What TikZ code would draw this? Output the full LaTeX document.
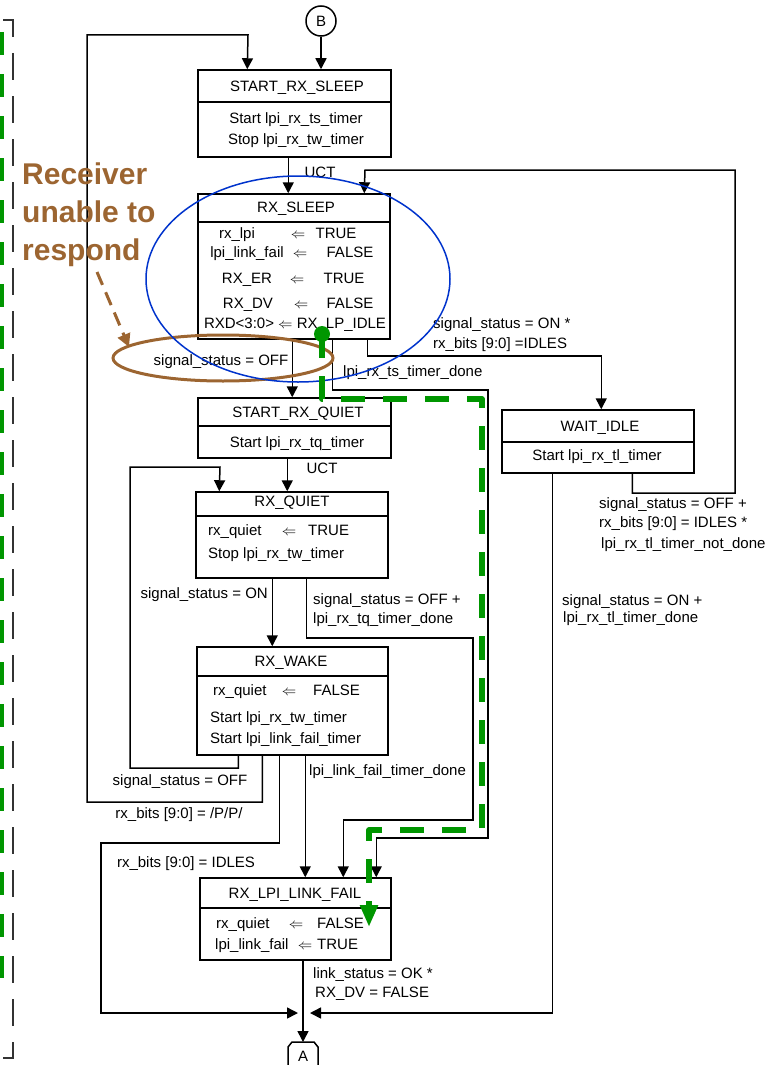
\documentclass[tikz,border=0pt]{standalone}
\usepackage{fontspec}
\setmainfont{Liberation Sans}
\usetikzlibrary{arrows.meta}
\definecolor{brn}{RGB}{156,101,49}
\definecolor{grn}{RGB}{0,150,0}
\definecolor{blu}{RGB}{0,51,204}
\definecolor{dgray}{RGB}{51,51,51}
\begin{document}
\begin{tikzpicture}[x=1pt,y=-1pt,
  every node/.style={font=\fontsize{15}{17}\selectfont, inner sep=0pt},
  state/.style={draw, line width=1.5pt, inner sep=0pt},
  divider/.style={line width=1.5pt},
  conn/.style={line width=1.5pt, -{Triangle[length=11pt,width=11pt]}},
  lw/.style={anchor=base west},
  lc/.style={anchor=base},
  lr/.style={anchor=base east},
  note/.style={anchor=base west, text=brn, font=\fontsize{30}{36}\selectfont\bfseries}]
\useasboundingbox (0,0) rectangle (780,1065);

% ---------- frame lines on the left ----------
\draw[dgray, line width=1.8pt, dash pattern=on 27pt off 16pt] (3,20) -- (13,20) -- (13,1058) -- (3,1058);
\draw[grn, line width=5pt, dash pattern=on 23pt off 19pt] (1.5,32) -- (1.5,978);

% ---------- states ----------
\node[state, circle, minimum size=30pt] (B) at (321,21) {B};
\node[state, minimum width=193pt, minimum height=87pt] (srs) at (294.5,113.5) {};
\node[state, minimum width=192pt, minimum height=145pt] (rxs) at (294,266.5) {};
\node[state, minimum width=193pt, minimum height=60pt] (srq) at (294.5,428) {};
\node[state, minimum width=192pt, minimum height=86pt] (rxq) at (292,535) {};
\node[state, minimum width=191pt, minimum height=108pt] (rxw) at (292.5,701) {};
\node[state, minimum width=192pt, minimum height=63pt] (wi) at (598,441.5) {};
\node[state, minimum width=191pt, minimum height=82pt] (rlf) at (295.5,919) {};
\coordinate (Atop) at (303,1042);
\draw[line width=1.5pt] (288,1065) -- (288,1047) -- (292,1042) -- (314,1042) -- (318,1047) -- (318,1065);
\node[lc] (Alab) at (303,1061) {A};

% dividers
\draw[divider] (srs.west |- 0,102) -- (srs.east |- 0,102);
\draw[divider] (rxs.west |- 0,222) -- (rxs.east |- 0,222);
\draw[divider] (srq.west |- 0,426) -- (srq.east |- 0,426);
\draw[divider] (rxq.west |- 0,516) -- (rxq.east |- 0,516);
\draw[divider] (rxw.west |- 0,676) -- (rxw.east |- 0,676);
\draw[divider] (wi.west |- 0,442) -- (wi.east |- 0,442);
\draw[divider] (rlf.west |- 0,908) -- (rlf.east |- 0,908);

% ---------- state texts ----------
\node[lc] (t1) at (297,92) {START\_RX\_SLEEP};
\node[lc] (t1a) at (296,123) {Start lpi\_rx\_ts\_timer};
\node[lc] (t1b) at (296,144) {Stop lpi\_rx\_tw\_timer};

\node[lc] (t2) at (296,212) {RX\_SLEEP};
\node[lc] (t2a) at (237,238) {rx\_lpi};
\node[lc] (t2aa) at (298,238) {$\Leftarrow$};
\node[lc] (t2ab) at (336,238) {TRUE};
\node[lc] (t2b) at (247,257) {lpi\_link\_fail};
\node[lc] (t2ba) at (300,257) {$\Leftarrow$};
\node[lc] (t2bb) at (350,257) {FALSE};
\node[lc] (t2c) at (247,283) {RX\_ER};
\node[lc] (t2ca) at (297,283) {$\Leftarrow$};
\node[lc] (t2cb) at (344,283) {TRUE};
\node[lc] (t2d) at (248,308) {RX\_DV};
\node[lc] (t2da) at (301,308) {$\Leftarrow$};
\node[lc] (t2db) at (350,308) {FALSE};
\node[lc] (t2e) at (295,328) {RXD<3:0> $\Leftarrow$ RX\_LP\_IDLE};

\node[lc] (t3) at (298,417) {START\_RX\_QUIET};
\node[lc] (t3a) at (297,447) {Start lpi\_rx\_tq\_timer};

\node[lc] (t4) at (292,506) {RX\_QUIET};
\node[lw] (t4a) at (208,535) {rx\_quiet};
\node[lc] (t4aa) at (289,535) {$\Leftarrow$};
\node[lw] (t4ab) at (308,535) {TRUE};
\node[lw] (t4b) at (208,558) {Stop lpi\_rx\_tw\_timer};

\node[lc] (t5) at (291,666) {RX\_WAKE};
\node[lw] (t5a) at (213,695) {rx\_quiet};
\node[lc] (t5aa) at (289,695) {$\Leftarrow$};
\node[lw] (t5ab) at (313,695) {FALSE};
\node[lw] (t5b) at (210,722) {Start lpi\_rx\_tw\_timer};
\node[lw] (t5c) at (210,743) {Start lpi\_link\_fail\_timer};

\node[lc] (t6) at (600,431) {WAIT\_IDLE};
\node[lc] (t6a) at (597,460) {Start lpi\_rx\_tl\_timer};

\node[lc] (t7) at (295,898) {RX\_LPI\_LINK\_FAIL};
\node[lw] (t7a) at (216,928) {rx\_quiet};
\node[lc] (t7aa) at (296,928) {$\Leftarrow$};
\node[lw] (t7ab) at (317,928) {FALSE};
\node[lw] (t7b) at (215,949) {lpi\_link\_fail};
\node[lc] (t7ba) at (305,949) {$\Leftarrow$};
\node[lw] (t7bb) at (317,949) {TRUE};

% ---------- connectors ----------
\coordinate (jl) at (298,1013);
\coordinate (jr) at (310,1013);
\draw[conn] (B.south) -- (B.south |- srs.north);
\draw[conn] ([xshift=66pt]rxw.south west) |- (87,802) |- (248,35) -- ([xshift=50pt]srs.north west);
\draw[conn] ([xshift=91pt]srs.south west) -- ([xshift=91pt]rxs.north west);
\draw[conn] ([xshift=131pt]wi.south west) |- (735,493) |- (365,170) -- ([xshift=167pt]rxs.north west);
\draw[conn] ([xshift=95pt]rxs.south west) -- ([xshift=95pt]srq.north west);
\draw[conn] ([xshift=170pt]rxs.south west) -- ++(0,16) -| ([xshift=100pt]wi.north west);
\draw[conn] ([xshift=135pt]rxs.south west) -- ++(0,50) -| (488,838) -| ([xshift=177pt]rlf.north west);
\draw[conn] ([xshift=90pt]srq.south west) -- ([xshift=92pt]rxq.north west);
\draw[conn] ([xshift=77pt]rxq.south west) -- ([xshift=76pt]rxw.north west);
\draw[conn] ([xshift=111pt]rxq.south west) -- ++(0,59) -| (473,820) -| ([xshift=144pt]rlf.north west);
\draw[conn] ([xshift=42pt]rxw.south west) |- (130,768) |- (220,467) -- ([xshift=24pt]rxq.north west);
\draw[conn] ([xshift=83pt]rxw.south west) |- (101,843) |- (jl);
\draw[conn] ([xshift=109pt]rxw.south west) -- ([xshift=106pt]rlf.north west);
\draw[conn] (Atop |- rlf.south) -- (Atop);
\draw[conn] ([xshift=51pt]wi.south west) |- (jr);

% ---------- connector labels ----------
\node[lc] (l1) at (320,177) {UCT};
\node[lc] (l2) at (221,365) {signal\_status = OFF};
\node[lw] (l3a) at (433,328) {signal\_status = ON *};
\node[lw] (l3b) at (433,348) {rx\_bits [9:0] =IDLES};
\node[lw] (l4) at (343,376) {lpi\_rx\_ts\_timer\_done};
\node[lc] (l5) at (322,473) {UCT};
\node[lr] (l6) at (268,598) {signal\_status = ON};
\node[lw] (l7a) at (313,604) {signal\_status = OFF +};
\node[lw] (l7b) at (313,623) {lpi\_rx\_tq\_timer\_done};
\node[lw] (l8a) at (599,508) {signal\_status = OFF +};
\node[lw] (l8b) at (599,527) {rx\_bits [9:0] = IDLES *};
\node[lw] (l8c) at (601,548) {lpi\_rx\_tl\_timer\_not\_done};
\node[lw] (l9a) at (562,605) {signal\_status = ON +};
\node[lw] (l9b) at (563,622) {lpi\_rx\_tl\_timer\_done};
\node[lc] (l10) at (180,785) {signal\_status = OFF};
\node[lw] (l11) at (309,775) {lpi\_link\_fail\_timer\_done};
\node[lc] (l12) at (179,818) {rx\_bits [9:0] = /P/P/};
\node[lc] (l13) at (186,867) {rx\_bits [9:0] = IDLES};
\node[lw] (l14a) at (313,978) {link\_status = OK *};
\node[lw] (l14b) at (315,997) {RX\_DV = FALSE};

% ---------- annotations ----------
\node[note] (n1) at (22,184) {Receiver};
\node[note] (n2) at (22,222) {unable to};
\node[note] (n3) at (22,260) {respond};
\coordinate (nstart) at (97,272);
\coordinate (nend) at (129,347);
\draw[brn, line width=3pt, dash pattern=on 14pt off 8pt, -{Triangle[length=13pt,width=13pt]}] (nstart) -- (nend);
\draw[brn, line width=3pt] (223,358) ellipse (110 and 23);
\draw[blu, line width=1.5pt] (298,279) ellipse (152 and 103);

\coordinate (gstart) at (322,334);
\fill[grn] (gstart) circle (8);
\draw[grn, line width=5.5pt, dash pattern=on 24pt off 18pt, line join=round, -{Triangle[length=22pt,width=17pt]}]
  (gstart) -- (322,399) -- (482,399) -- (482,830) -- (369,830) -- (369,927);
\end{tikzpicture}
\end{document}
